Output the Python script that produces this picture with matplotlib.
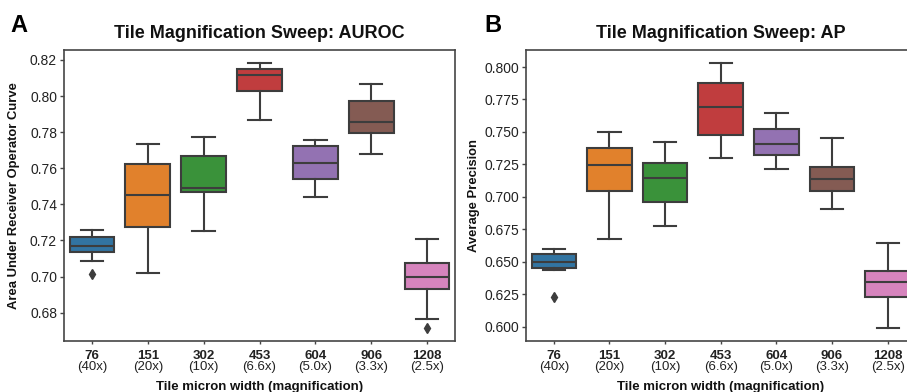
import matplotlib
matplotlib.use('Agg')
import matplotlib.pyplot as plt
import numpy as np

plt.rcParams['font.family'] = ['Liberation Sans', 'DejaVu Sans']

# ---------------- data ----------------
tile_widths = ['76', '151', '302', '453', '604', '906', '1208']
magnifications = ['(40x)', '(20x)', '(10x)', '(6.6x)', '(5.0x)', '(3.3x)', '(2.5x)']
box_colors = ['#3274a1', '#e1812c', '#3a923a', '#c03d3e', '#9372b2', '#845b53', '#d684bd']

auroc_whislo = [0.7085, 0.7022, 0.7254, 0.7869, 0.7443, 0.7678, 0.6765]
auroc_q1 = [0.7136, 0.7275, 0.7467, 0.8027, 0.7539, 0.7797, 0.6931]
auroc_med = [0.7170, 0.7454, 0.7489, 0.8119, 0.7629, 0.7857, 0.7000]
auroc_q3 = [0.7218, 0.7622, 0.7668, 0.8148, 0.7725, 0.7975, 0.7075]
auroc_whishi = [0.7258, 0.7735, 0.7773, 0.8182, 0.7757, 0.8067, 0.7208]
auroc_fliers = [[0.7014], [], [], [], [], [], [0.6715]]

ap_whislo = [0.6434, 0.6677, 0.6775, 0.7297, 0.7214, 0.6906, 0.5992]
ap_q1 = [0.6449, 0.7042, 0.6962, 0.7478, 0.7320, 0.7042, 0.6230]
ap_med = [0.6500, 0.7243, 0.7147, 0.7694, 0.7409, 0.7135, 0.6341]
ap_q3 = [0.6559, 0.7374, 0.7260, 0.7879, 0.7522, 0.7230, 0.6426]
ap_whishi = [0.6595, 0.7497, 0.7425, 0.8028, 0.7643, 0.7453, 0.6642]
ap_fliers = [[0.6226], [], [], [], [], [], []]

auroc_yticks = [0.68, 0.70, 0.72, 0.74, 0.76, 0.78, 0.80, 0.82]
ap_yticks = [0.600, 0.625, 0.650, 0.675, 0.700, 0.725, 0.750, 0.775, 0.800]

# ---------------- figure ----------------
W, H = 907, 392
fig = plt.figure(figsize=(W / 100, H / 100), dpi=100)

def ax_rect(l, r, t, b):
    return [l / W, 1 - b / H, (r - l) / W, (b - t) / H]

axA = fig.add_axes(ax_rect(64, 455, 50, 341))
axB = fig.add_axes(ax_rect(526, 915.5, 50, 341))

line_col = '#3d3d3d'
spine_col = '#454545'


def draw(ax, whislo, q1, med, q3, whishi, fliers, ylim, yticks, fmt,
         title, ylabel, ylabel_x):
    stats = []
    for i in range(len(tile_widths)):
        stats.append(dict(whislo=whislo[i], q1=q1[i], med=med[i], q3=q3[i],
                          whishi=whishi[i], fliers=fliers[i]))
    bp = ax.bxp(stats, positions=np.arange(len(stats)), widths=0.8,
                patch_artist=True, showfliers=True, manage_ticks=False,
                boxprops=dict(edgecolor=line_col, linewidth=1.5),
                medianprops=dict(color=line_col, linewidth=1.5),
                whiskerprops=dict(color=line_col, linewidth=1.5),
                capprops=dict(color=line_col, linewidth=1.5),
                flierprops=dict(marker='d', markerfacecolor=line_col,
                                markeredgecolor=line_col, markersize=5))
    for patch, c in zip(bp['boxes'], box_colors):
        patch.set_facecolor(c)
    ax.set_xlim(-0.5, len(stats) - 0.5)
    ax.set_ylim(*ylim)
    ax.set_yticks(yticks)
    ax.set_yticklabels([fmt.format(v) for v in yticks])
    ax.set_xticks(np.arange(len(stats)))
    ax.set_xticklabels(tile_widths, fontweight='bold')
    ax.tick_params(axis='y', labelsize=10, length=3, width=1, color=spine_col,
                   labelcolor='#222222', pad=2)
    ax.tick_params(axis='x', labelsize=9.5, length=2.5, width=1, color=spine_col,
                   labelcolor='#222222', pad=4)
    for i, m in enumerate(magnifications):
        ax.annotate(m, xy=(i, 0), xycoords=('data', 'axes fraction'),
                    xytext=(0, -14.5), textcoords='offset points',
                    ha='center', va='top', fontsize=9.5, color='#222222')
    for s in ax.spines.values():
        s.set_color(spine_col)
        s.set_linewidth(1.2)
    ax.set_title(title, fontsize=13, fontweight='bold', pad=9, color='#111111')
    ax.set_ylabel(ylabel, fontsize=9.4, fontweight='bold', color='#111111')
    ax.yaxis.set_label_coords(ylabel_x, 0.5)
    ax.set_xlabel('Tile micron width (magnification)', fontsize=9.5,
                  fontweight='bold', color='#111111', va='top')
    ax.xaxis.set_label_coords(0.5, -0.139)


draw(axA, auroc_whislo, auroc_q1, auroc_med, auroc_q3, auroc_whishi, auroc_fliers,
     (0.6643, 0.8255), auroc_yticks, '{:.2f}',
     'Tile Magnification Sweep: AUROC', 'Area Under Receiver Operator Curve', -0.112)
draw(axB, ap_whislo, ap_q1, ap_med, ap_q3, ap_whishi, ap_fliers,
     (0.5889, 0.8131), ap_yticks, '{:.3f}',
     'Tile Magnification Sweep: AP', 'Average Precision', -0.118)

fig.text(10 / W, 1 - 32 / H, 'A', fontsize=17, fontweight='bold', va='baseline', ha='left')
fig.text(484 / W, 1 - 32 / H, 'B', fontsize=17, fontweight='bold', va='baseline', ha='left')

fig.savefig('out.png', dpi=100)
